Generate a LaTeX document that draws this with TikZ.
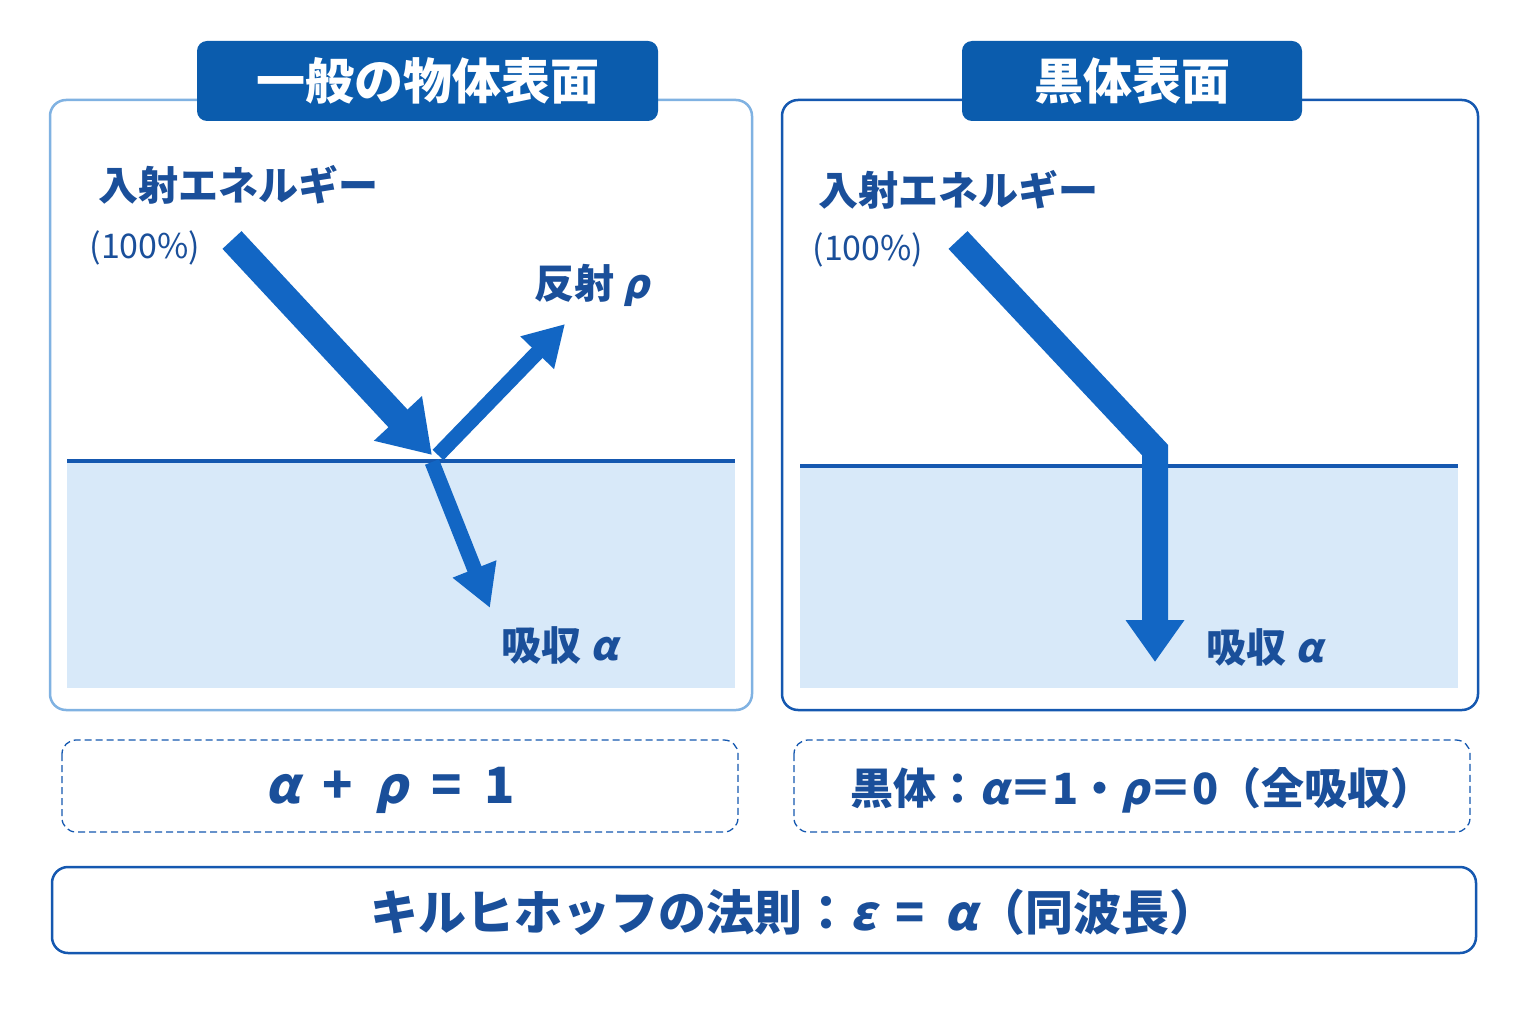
\documentclass[tikz,border=0pt]{standalone}
\usepackage{fontspec}
\setmainfont{Noto Sans CJK JP}
\newfontfamily\gk[FakeSlant=0.22]{Noto Sans CJK JP}
\usetikzlibrary{arrows.meta}
\definecolor{tab}{HTML}{0B5CAD}
\definecolor{txt}{HTML}{1A4F9A}
\definecolor{arr}{HTML}{1266C4}
\definecolor{fillb}{HTML}{D8E9F9}
\definecolor{lb}{HTML}{80B2E2}
\definecolor{db}{HTML}{1558B0}
\newcommand{\g}[1]{{\gk #1}}
\begin{document}
\begin{tikzpicture}[x=1pt,y=-1pt,
 lbl/.style={text=txt,font=\bfseries\fontsize{40}{42}\selectfont,inner sep=0},
 pct/.style={text=txt,font=\fontsize{34}{36}\selectfont,inner sep=0},
 tabn/.style={fill=tab,rounded corners=10pt,text=white,font=\bfseries\fontsize{49}{51}\selectfont},
 big/.style={line width=26pt,draw=arr},
 thin/.style={line width=15pt,draw=arr},
 box/.style={draw=db,line width=2.5pt,rounded corners=16pt},
 dbox/.style={draw=db,dash pattern=on 7pt off 4pt,line width=1.3pt,rounded corners=14pt}]
\useasboundingbox (0,0) rectangle (1536,1024);
\fill[white] (0,0) rectangle (1536,1024);
% left panel
\draw[lb,line width=2.5pt,rounded corners=16pt] (50,100) rectangle (752,710);
\fill[fillb] (67,461) rectangle (735,688);
\draw[db,line width=4pt] (67,461) -- (735,461);
\node[tabn,minimum width=461pt,minimum height=80pt] (t1) at (427.5,81) {一般の物体表面};
\coordinate (i1) at (232,240); \coordinate (h1) at (432,455);
\draw[big,-{Triangle[length=50pt,width=62pt]}] (i1) -- (h1);
\coordinate (r0) at (438,455); \coordinate (r1) at (565,324);
\draw[thin,-{Triangle[length=40pt,width=44pt]}] (r0) -- (r1);
\coordinate (a0) at (432,462); \coordinate (a1) at (490,608);
\draw[thin,-{Triangle[length=42pt,width=44pt]}] (a0) -- (a1);
\node[lbl] (n1) at (238,185) {入射エネルギー};
\node[pct] (p1) at (145,248) {(100\%)};
\node[lbl] (rf) at (592,285) {反射 \g{ρ}};
\node[lbl] (ab1) at (560,645) {吸収 \g{α}};
% right panel
\draw[box] (782,100) rectangle (1478,710);
\fill[fillb] (800,466) rectangle (1458,688);
\draw[db,line width=4pt] (800,466) -- (1458,466);
\node[tabn,minimum width=340pt,minimum height=80pt] (t2) at (1132,81) {黒体表面};
\coordinate (i2) at (958,240); \coordinate (k2) at (1155,450); \coordinate (e2) at (1155,662);
\draw[big,line join=miter,-{Triangle[length=42pt,width=56pt]}] (i2) -- (k2) -- (e2);
\node[lbl] (n2) at (958,190) {入射エネルギー};
\node[pct] (p2) at (868,250) {(100\%)};
\node[lbl] (ab2) at (1265,647) {吸収 \g{α}};
% formula boxes
\draw[dbox] (62,740) rectangle (738,832);
\node[text=txt,font=\bfseries\fontsize{50}{52}\selectfont] (f1) at (390,790) {\g{α}\ \ +\ \ \g{ρ}\ \ =\ \ 1};
\draw[dbox] (794,740) rectangle (1470,832);
\node[text=txt,font=\bfseries\fontsize{43}{45}\selectfont] (f2) at (1142,790) {黒体：\g{α}＝1・\g{ρ}＝0（全吸収）};
\draw[box] (52,867) rectangle (1476,953);
\node[text=txt,font=\bfseries\fontsize{48}{50}\selectfont] (f3) at (794,912) {キルヒホッフの法則：\g{ε} \,=\, \g{α}（同波長）};
\end{tikzpicture}
\end{document}
